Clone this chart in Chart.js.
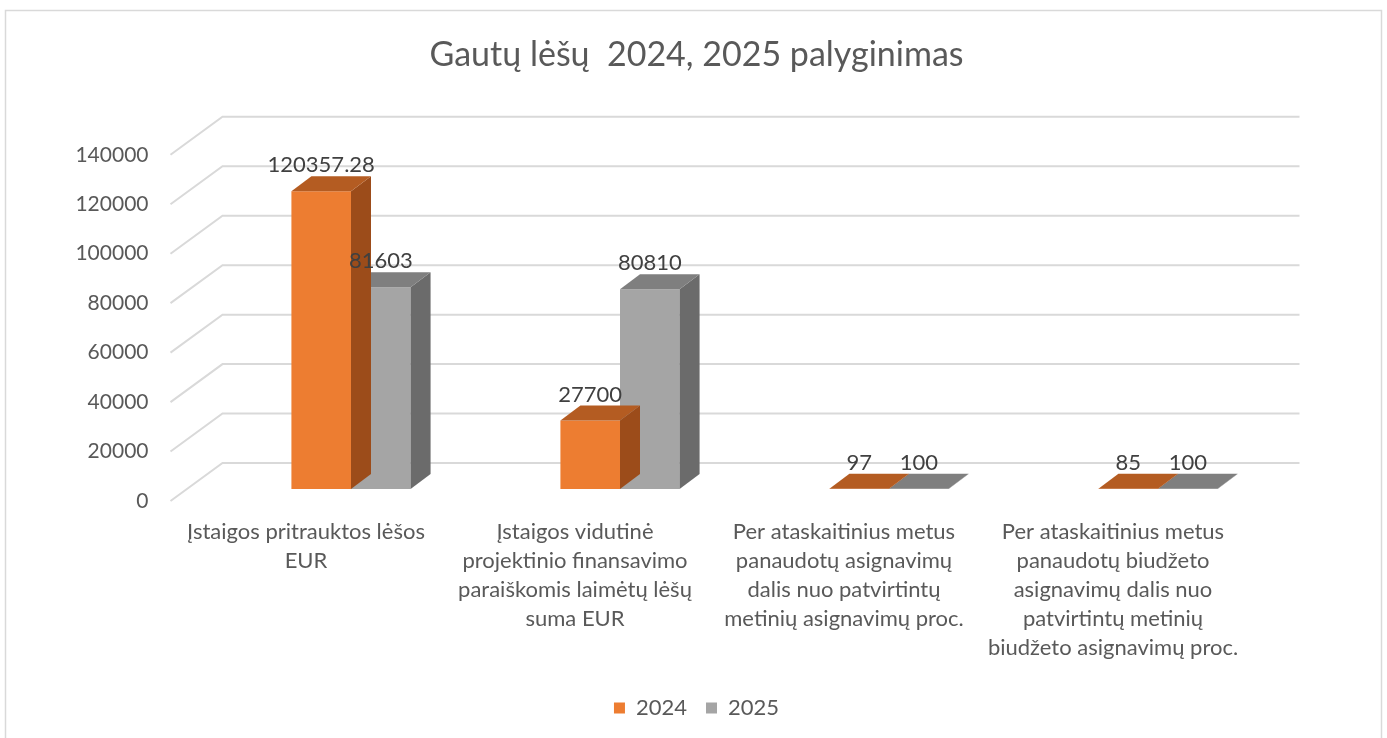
<!DOCTYPE html>
<html>
<head>
<meta charset="utf-8">
<script src="https://cdn.jsdelivr.net/npm/chart.js@4"></script>
<style>
  html, body { margin: 0; padding: 0; background: #fff; }
  #chart { display: block; }
</style>
</head>
<body>
<canvas id="chart" width="1387" height="738"></canvas>
<script>
const categories = [
  ['Įstaigos pritrauktos lėšos', 'EUR'],
  ['Įstaigos vidutinė', 'projektinio finansavimo', 'paraiškomis laimėtų lėšų', 'suma EUR'],
  ['Per ataskaitinius metus', 'panaudotų asignavimų', 'dalis nuo patvirtintų', 'metinių asignavimų proc.'],
  ['Per ataskaitinius metus', 'panaudotų biudžeto', 'asignavimų dalis nuo', 'patvirtintų metinių', 'biudžeto asignavimų proc.']
];
const values2024 = [120357.28, 27700, 97, 85];
const values2025 = [81603, 80810, 100, 100];
const yMax = 140000;
const yStep = 20000;

const FONT = 'Lato, "Open Sans", sans-serif';

// colours for front / top / side of each series
const faces = [
  { front: '#ED7D31', top: '#B45C22', side: '#9C4C1A' },
  { front: '#A5A5A5', top: '#7F7F7F', side: '#6B6B6B' }
];
const BAR_DX = 20, BAR_DY = -15;          // depth of a bar
const FLOOR_FRONT = { dx: -46, dy: 12 };  // front edge of floor, relative to bar front plane
const WALL = { dx: 6, dy: -26 };          // back wall, relative to bar front plane

const pseudo3d = {
  id: 'pseudo3d',
  beforeDraw(chart) {
    const ctx = chart.ctx;
    ctx.save();
    ctx.strokeStyle = '#d9d9d9';
    ctx.lineWidth = 1.5;
    ctx.strokeRect(5.5, 10.5, 1376, 740);
    ctx.restore();
  },
  beforeDatasetsDraw(chart) {
    const { ctx, chartArea, scales } = chart;
    const y = scales.y;
    ctx.save();
    ctx.strokeStyle = '#d9d9d9';
    ctx.lineWidth = 2;
    y.ticks.forEach(t => {
      const py = y.getPixelForValue(t.value);
      ctx.beginPath();
      ctx.moveTo(chartArea.left + FLOOR_FRONT.dx, py + FLOOR_FRONT.dy);
      ctx.lineTo(chartArea.left + WALL.dx, py + WALL.dy);
      ctx.lineTo(chartArea.right + 7, py + WALL.dy);
      ctx.stroke();
    });
    ctx.restore();
  },
  afterDatasetDraw(chart, args) {
    const ctx = chart.ctx;
    const c = faces[args.index];
    ctx.save();
    args.meta.data.forEach(bar => {
      const p = bar.getProps(['x', 'y', 'base', 'width'], true);
      const l = p.x - p.width / 2, r = p.x + p.width / 2;
      const top = Math.min(p.y, p.base), bottom = Math.max(p.y, p.base);
      // side
      ctx.fillStyle = c.side;
      ctx.beginPath();
      ctx.moveTo(r, top);
      ctx.lineTo(r + BAR_DX, top + BAR_DY);
      ctx.lineTo(r + BAR_DX, bottom + BAR_DY);
      ctx.lineTo(r, bottom);
      ctx.closePath();
      ctx.fill();
      // top
      ctx.fillStyle = c.top;
      ctx.beginPath();
      ctx.moveTo(l, top);
      ctx.lineTo(l + BAR_DX, top + BAR_DY);
      ctx.lineTo(r + BAR_DX, top + BAR_DY);
      ctx.lineTo(r, top);
      ctx.closePath();
      ctx.fill();
    });
    ctx.restore();
  },
  afterDatasetsDraw(chart) {
    const ctx = chart.ctx;
    ctx.save();
    ctx.font = '22px ' + FONT;
    ctx.fillStyle = '#404040';
    ctx.textAlign = 'center';
    ctx.textBaseline = 'middle';
    chart.data.datasets.forEach((ds, i) => {
      chart.getDatasetMeta(i).data.forEach((bar, j) => {
        ctx.fillText(String(ds.data[j]), bar.x, Math.min(bar.y, bar.base) - 26);
      });
    });
    ctx.restore();
  }
};

new Chart(document.getElementById('chart'), {
  type: 'bar',
  data: {
    labels: categories,
    datasets: [
      { label: '2024', data: values2024, backgroundColor: faces[0].front },
      { label: '2025', data: values2025, backgroundColor: faces[1].front }
    ]
  },
  options: {
    responsive: false,
    animation: false,
    categoryPercentage: 0.443,
    barPercentage: 1,
    layout: { padding: { top: 0, left: 75, right: 69, bottom: 9 } },
    plugins: {
      title: {
        display: true,
        text: 'Gautų lėšų  2024, 2025 palyginimas',
        color: '#595959',
        font: { family: FONT, size: 34, weight: 'normal' },
        padding: { top: 35, bottom: 67 }
      },
      legend: {
        position: 'bottom',
        labels: {
          color: '#595959',
          font: { family: FONT, size: 22 },
          boxWidth: 11,
          boxHeight: 11,
          padding: 19
        }
      },
      tooltip: { enabled: false }
    },
    scales: {
      x: {
        grid: { display: false, drawTicks: false },
        border: { display: false },
        ticks: {
          color: '#595959',
          font: { family: FONT, size: 22, lineHeight: 1.32 },
          padding: 28,
          labelOffset: -45,
          maxRotation: 0,
          autoSkip: false
        },
        afterFit(scale) { scale.height = 189; }
      },
      y: {
        min: 0,
        max: yMax,
        grid: { display: false, drawTicks: false },
        border: { display: false },
        ticks: {
          stepSize: yStep,
          color: '#595959',
          font: { family: FONT, size: 21 },
          padding: 68,
          labelOffset: 12,
          callback: v => String(v)
        },
        afterFit(scale) { scale.width = 141.5; }
      },
      // empty spacer on the right so the plot ends where the reference does
      spacer: {
        position: 'right',
        grid: { display: false, drawTicks: false },
        border: { display: false },
        ticks: { display: false },
        afterFit(scale) { scale.width = 25.5; }
      }
    }
  },
  plugins: [pseudo3d]
});
</script>
</body>
</html>
